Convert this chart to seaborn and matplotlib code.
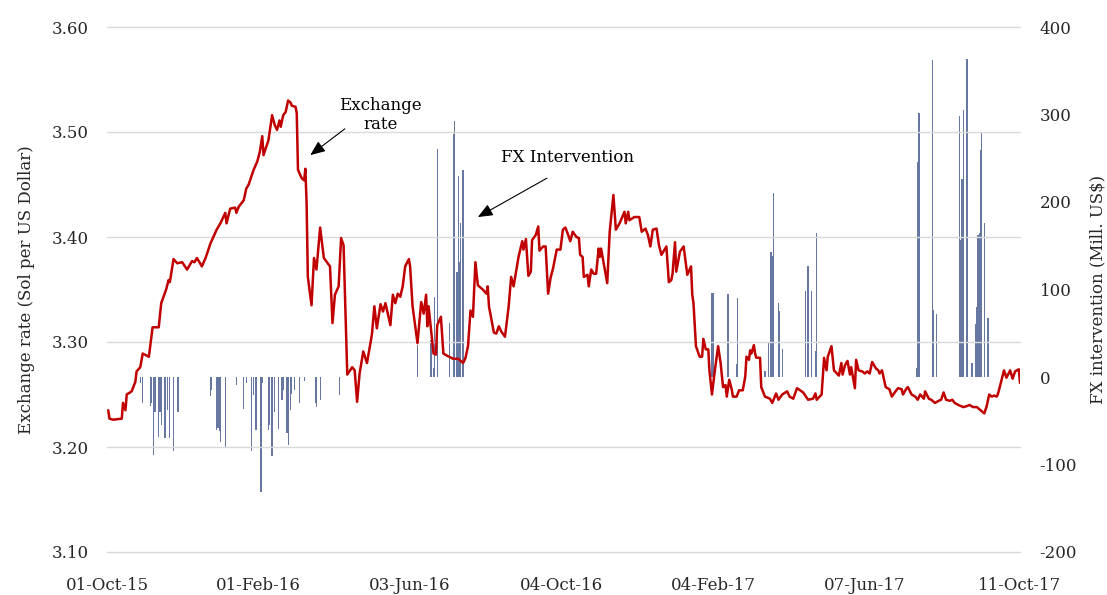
import matplotlib

matplotlib.use("Agg")
import matplotlib.pyplot as plt
import pandas as pd
import seaborn as sns

START = pd.Timestamp("2015-10-01")

# Exchange rate (Sol per US Dollar); days counted from 01-Oct-15
rate_days = [
    1, 2, 5, 12, 13, 15, 16, 20, 23, 24, 27, 29, 34, 37, 42, 44, 48, 50, 51, 54,
    57, 61, 65, 69, 71, 73, 77, 80, 84, 89, 92, 96, 97, 100, 104, 105, 107, 111,
    113, 115, 119, 122, 124, 126, 127, 131, 134, 136, 138, 140, 141, 143, 145,
    147, 149, 150, 153, 154, 155, 158, 160, 161, 162, 163, 166, 168, 170, 173,
    176, 181, 183, 185, 188, 190, 192, 195, 199, 201, 203, 205, 208, 211, 215,
    217, 219, 222, 224, 226, 230, 232, 234, 236, 238, 240, 242, 245, 246, 248,
    252, 255, 257, 259, 260, 261, 265, 267, 268, 271, 273, 276, 281, 285, 289,
    291, 293, 295, 297, 299, 301, 305, 308, 309, 310, 314, 316, 318, 320, 323,
    326, 328, 330, 334, 337, 338, 340, 342, 344, 345, 348, 350, 351, 354, 356,
    358, 360, 362, 365, 368, 370, 372, 374, 376, 378, 381, 383, 384, 386, 387,
    390, 391, 393, 395, 397, 399, 400, 401, 403, 406, 408, 411, 413, 416, 420,
    421, 423, 424, 428, 432, 434, 437, 439, 441, 443, 446, 448, 450, 454, 456,
    458, 459, 461, 462, 465, 468, 471, 474, 475, 476, 478, 481, 483, 484, 486,
    488, 489, 491, 493, 496, 498, 500, 502, 503, 505, 507, 508, 511, 513, 516,
    518, 519, 521, 522, 523, 525, 526, 527, 530, 531, 534, 538, 540, 543, 545,
    548, 552, 554, 557, 560, 565, 569, 573, 575, 576, 580, 582, 584, 585, 588,
    590, 594, 596, 597, 599, 601, 603, 604, 607, 608, 610, 613, 615, 617, 619,
    621, 624, 626, 627, 629, 632, 635, 637, 640, 642, 645, 646, 649, 650, 653,
    656, 658, 660, 663, 664, 667, 669, 672, 675, 677, 679, 681, 684, 686, 688,
    691, 695, 698, 700, 703, 706, 709, 712, 714, 716, 718, 720, 722, 723, 725,
    728, 730, 733, 735, 737, 740, 741,
]
rate_values = [
    3.235, 3.227, 3.226, 3.227, 3.242, 3.235, 3.250, 3.253, 3.262, 3.272,
    3.276, 3.289, 3.286, 3.314, 3.314, 3.337, 3.350, 3.359, 3.357, 3.379,
    3.375, 3.376, 3.369, 3.377, 3.376, 3.380, 3.372, 3.380, 3.394, 3.407,
    3.413, 3.423, 3.413, 3.427, 3.428, 3.423, 3.429, 3.435, 3.446, 3.450,
    3.464, 3.472, 3.481, 3.496, 3.478, 3.492, 3.516, 3.507, 3.502, 3.511,
    3.505, 3.516, 3.519, 3.530, 3.528, 3.525, 3.524, 3.518, 3.464, 3.456,
    3.454, 3.465, 3.432, 3.362, 3.335, 3.380, 3.369, 3.409, 3.380, 3.372,
    3.318, 3.345, 3.353, 3.399, 3.392, 3.269, 3.276, 3.273, 3.243, 3.270,
    3.291, 3.280, 3.307, 3.334, 3.313, 3.336, 3.329, 3.337, 3.316, 3.345,
    3.337, 3.346, 3.343, 3.353, 3.372, 3.379, 3.372, 3.334, 3.299, 3.338,
    3.327, 3.345, 3.315, 3.334, 3.289, 3.288, 3.316, 3.324, 3.289, 3.287,
    3.284, 3.284, 3.280, 3.285, 3.296, 3.330, 3.324, 3.376, 3.354, 3.350,
    3.346, 3.353, 3.334, 3.309, 3.308, 3.315, 3.310, 3.305, 3.334, 3.362,
    3.353, 3.381, 3.396, 3.388, 3.398, 3.363, 3.367, 3.397, 3.402, 3.410,
    3.387, 3.391, 3.391, 3.346, 3.361, 3.370, 3.388, 3.388, 3.407, 3.409,
    3.403, 3.396, 3.405, 3.400, 3.399, 3.383, 3.381, 3.362, 3.364, 3.353,
    3.369, 3.365, 3.365, 3.389, 3.381, 3.389, 3.376, 3.356, 3.405, 3.440,
    3.407, 3.413, 3.424, 3.413, 3.424, 3.416, 3.419, 3.419, 3.405, 3.408,
    3.402, 3.391, 3.407, 3.408, 3.392, 3.383, 3.391, 3.357, 3.359, 3.365,
    3.395, 3.367, 3.386, 3.391, 3.364, 3.372, 3.345, 3.337, 3.296, 3.286,
    3.286, 3.303, 3.293, 3.293, 3.272, 3.250, 3.270, 3.296, 3.280, 3.257,
    3.259, 3.248, 3.264, 3.255, 3.248, 3.248, 3.254, 3.254, 3.267, 3.286,
    3.283, 3.292, 3.289, 3.297, 3.289, 3.285, 3.285, 3.257, 3.248, 3.246,
    3.242, 3.251, 3.245, 3.250, 3.253, 3.248, 3.246, 3.256, 3.252, 3.245,
    3.246, 3.251, 3.245, 3.250, 3.285, 3.273, 3.286, 3.296, 3.273, 3.268,
    3.280, 3.269, 3.278, 3.282, 3.269, 3.276, 3.256, 3.283, 3.273, 3.272,
    3.270, 3.272, 3.270, 3.281, 3.275, 3.273, 3.270, 3.273, 3.257, 3.255,
    3.248, 3.253, 3.256, 3.255, 3.250, 3.256, 3.257, 3.250, 3.248, 3.245,
    3.250, 3.246, 3.253, 3.246, 3.245, 3.242, 3.244, 3.245, 3.252, 3.245,
    3.244, 3.245, 3.242, 3.240, 3.238, 3.239, 3.240, 3.238, 3.238, 3.235,
    3.232, 3.239, 3.250, 3.248, 3.249, 3.248, 3.250, 3.259, 3.273, 3.266,
    3.273, 3.265, 3.272, 3.274, 3.261,
]

# FX intervention (Mill. US$), negative = sales, positive = purchases
fx_days = [
    27, 29, 35, 36, 38, 39, 42, 43, 44, 47, 49, 51, 54, 57, 58, 84, 85, 89, 90,
    91, 92, 96, 105, 111, 113, 117, 119, 121, 125, 126, 131, 132, 134, 136, 139,
    142, 143, 146, 147, 149, 150, 152, 156, 160, 169, 170, 173, 189,
    252, 263, 265, 266, 268, 278, 281, 282, 284, 285, 286, 287, 289,
    491, 492, 504, 511, 512, 534, 537, 539, 540, 541, 545, 546, 548,
    567, 569, 572, 575, 576,
    657, 658, 659, 670, 671, 673, 692, 693, 694, 695, 698, 702, 705, 706, 707,
    708, 709, 710, 712, 715,
]
fx_values = [
    -7, -30, -33, -30, -89, -40, -68, -40, -55, -70, -38, -70, -85, -40, -40,
    -22, -15, -60, -58, -62, -74, -80, -9, -37, -7, -85, -20, -61, -131, -7,
    -61, -55, -90, -40, -59, -26, -15, -64, -78, -38, -19, -15, -30, -4, -30,
    -34, -26, -20,
    37, 42, 10, 92, 260, 62, 278, 292, 120, 230, 132, 176, 237,
    96, 96, 95, 15, 90, 7, 40, 143, 138, 210, 85, 76, 32,
    98, 127, 98, 30, 165,
    10, 246, 302, 362, 77, 72, 298, 157, 226, 305, 363, 16, 61, 80, 162,
    164, 259, 280, 176, 68,
]

tick_labels = [
    "01-Oct-15", "01-Feb-16", "03-Jun-16", "04-Oct-16",
    "04-Feb-17", "07-Jun-17", "11-Oct-17",
]
rate_ticks = [3.10, 3.20, 3.30, 3.40, 3.50, 3.60]
fx_ticks = [-200, -100, 0, 100, 200, 300, 400]


def day(n):
    return START + pd.Timedelta(days=n)


rate = pd.DataFrame(
    {"date": [day(d) for d in rate_days], "rate": rate_values}
)
fx = pd.DataFrame({"date": [day(d) for d in fx_days], "value": fx_values})
tick_dates = pd.to_datetime(tick_labels, format="%d-%b-%y")

sns.set_theme(style="white")
plt.rcParams["font.family"] = ["DejaVu Serif"]

text_color = "#262626"

fig, ax = plt.subplots(figsize=(11.07, 5.95), dpi=100)
fig.subplots_adjust(
    left=107 / 1107, right=1020 / 1107, top=1 - 27 / 595, bottom=1 - 552 / 595
)
ax2 = ax.twinx()

ax2.bar(fx["date"], fx["value"], width=1.0, color="#6678a2", linewidth=0)
sns.lineplot(data=rate, x="date", y="rate", ax=ax, color="#c00000", linewidth=1.8)

ax.set_zorder(ax2.get_zorder() + 1)
ax.patch.set_visible(False)

ax.set_xlim(tick_dates[0], tick_dates[-1])
ax.set_ylim(3.10, 3.60)
ax2.set_ylim(-200, 400)
ax.set_xticks(tick_dates)
ax.set_xticklabels(tick_labels)
ax.set_yticks(rate_ticks)
ax.set_yticklabels([f"{v:.2f}" for v in rate_ticks])
ax2.set_yticks(fx_ticks)
ax2.set_yticklabels([str(v) for v in fx_ticks])

ax.grid(axis="y", color="#d9d9d9", linewidth=1.0)
ax.grid(axis="x", visible=False)
ax2.grid(False)
for line in ax.get_ygridlines():
    line.set_clip_on(False)
for a in (ax, ax2):
    for s in a.spines.values():
        s.set_visible(False)

ax.tick_params(axis="y", length=0, pad=13, labelsize=12, colors=text_color)
ax.tick_params(axis="x", length=0, pad=18, labelsize=12, colors=text_color)
ax2.tick_params(axis="y", length=0, pad=14, labelsize=12, colors=text_color)

ax.set_xlabel("")
ax.set_ylabel("Exchange rate (Sol per US Dollar)", fontsize=12, color=text_color,
              labelpad=12)
ax2.set_ylabel("FX intervention (Mill. US$)", fontsize=12, color=text_color,
               labelpad=9)

arrow = dict(
    arrowstyle="-|>,head_length=0.6,head_width=0.25",
    color="black",
    lw=0.8,
    shrinkA=0,
    shrinkB=0,
    mutation_scale=15,
)
ax.annotate("", xy=(day(165), 3.478), xytext=(day(193), 3.503), arrowprops=arrow)
ax.text(day(222), 3.516, "Exchange\nrate", ha="center", va="center",
        fontsize=12, color="black", linespacing=1.2)
ax.annotate("", xy=(day(301), 3.419), xytext=(day(357), 3.456), arrowprops=arrow)
ax.text(day(374), 3.476, "FX Intervention", ha="center", va="center",
        fontsize=12, color="black")

fig.savefig("out.png", dpi=100)
